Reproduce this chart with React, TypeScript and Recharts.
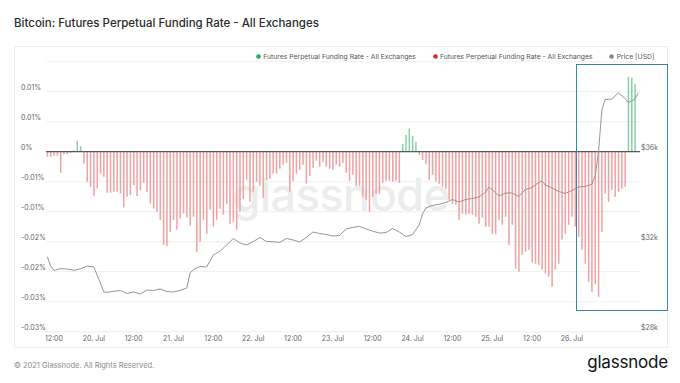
import React from 'react';
import { ComposedChart, Bar, Line, XAxis, YAxis, CartesianGrid, ReferenceLine } from 'recharts';

// hours are counted from 19 Jul 00:00
const FUNDING_START_HOUR = 10;
const fundingRate: number[] = [
  -0.00083, -0.00083, -0.00067, -0.00067, -0.0035, -0.00042, -0.00042, -0.00017, 0.00025, 0.00183,
  0.00092, -0.00195, -0.005, -0.00583, -0.00733, -0.00612, -0.00362, -0.00417, -0.00683, -0.00683,
  -0.00667, -0.00667, -0.00695, -0.00928, -0.0075, -0.00722, -0.00555, -0.00738, -0.00638, -0.00517,
  -0.00667, -0.00862, -0.00945, -0.01, -0.01138, -0.01555, -0.01572, -0.01333, -0.01138, -0.01295,
  -0.01112, -0.01028, -0.01095, -0.01233, -0.01083, -0.01667, -0.015, -0.01133, -0.01367, -0.00967,
  -0.0125, -0.01133, -0.0095, -0.0105, -0.00867, -0.012, -0.01167, -0.013, -0.01, -0.00783,
  -0.00467, -0.00833, -0.00667, -0.005, -0.00567, -0.00767, -0.00467, -0.0045, -0.00367, -0.00367,
  -0.00283, -0.00217, -0.00183, -0.00667, -0.00483, -0.00367, -0.003, -0.00217, -0.00533, -0.004,
  -0.00267, -0.0015, -0.0025, -0.00167, -0.0025, -0.00283, -0.003, -0.00217, -0.0025, -0.00183,
  -0.0035, -0.00483, -0.00383, -0.00567, -0.00567, -0.0075, -0.008, -0.01, -0.0075, -0.007,
  -0.007, -0.00517, -0.00483, -0.00483, -0.005, -0.00483, -0.00517, 0.00133, 0.00278, 0.00388,
  0.00267, 0.00167, -0.00055, -0.00138, -0.002, -0.00467, -0.00383, -0.005, -0.00533, -0.00583,
  -0.00617, -0.008, -0.00867, -0.00883, -0.01133, -0.01033, -0.0105, -0.01033, -0.0105, -0.01083,
  -0.012, -0.011, -0.0125, -0.0125, -0.01367, -0.01367, -0.01133, -0.01217, -0.01083, -0.0155,
  -0.01217, -0.0195, -0.02, -0.01717, -0.01667, -0.01633, -0.0185, -0.01867, -0.01883, -0.01967,
  -0.02033, -0.02083, -0.0225, -0.01967, -0.01867, -0.01467, -0.01367, -0.01217, -0.01083, -0.0125,
  -0.01417, -0.01633, -0.01867, -0.02167, -0.02333, -0.022, -0.02417, -0.01333, -0.007, -0.00833,
  -0.00633, -0.0075, -0.00667, -0.00617, -0.00583, 0.0125, 0.01233, 0.01133,
];

const priceHours: number[] = [
  10, 11, 12, 14, 16, 18, 20, 22, 24, 26, 27, 28, 30, 32, 34, 36, 38, 40, 42, 44, 46, 48, 50, 52, 53,
  54, 56, 58, 60, 62, 64, 66, 68, 70, 72, 74, 76, 78, 80, 82, 84, 86, 88, 90, 92, 94, 96, 98, 100,
  102, 104, 106, 108, 110, 112, 114, 116, 118, 120, 122, 123, 124, 126, 128, 130, 132, 134, 136, 138,
  140, 142, 143, 144, 146, 148, 150, 152, 154, 156, 158, 159, 160, 162, 164, 166, 168, 170, 172, 174,
  175, 176, 177, 178, 180, 182, 184, 185, 186, 187, 188,
];
const priceUsd: number[] = [
  31334, 30920, 30729, 30800, 30787, 30729, 30796, 30920, 30876, 30165, 29765, 29752, 29796, 29832,
  29698, 29765, 29676, 29854, 29832, 29898, 29787, 29765, 29832, 29943, 30609,
  30765, 30898, 30876, 31409, 31574, 31854, 32143, 31943, 31854, 32000, 32187, 32009, 32000, 31965,
  32143, 32076, 31987, 32187, 32431, 32365, 32320, 32254, 32276, 32565, 32631, 32685, 32565, 32467,
  32387, 32405, 32587, 32431, 32231, 32320, 32742, 33231, 33498, 33609, 33667, 33742, 33876, 33765,
  33876, 33920, 33987, 34209, 34431, 34320, 34031, 34165, 34165, 34009, 34320, 34409, 34631, 34698,
  34520, 34387, 34231, 34142, 34276, 34431, 34453, 34556, 34920, 35987, 37853, 38320, 38342, 38609,
  38364, 38186, 38253, 38342, 38622,
];

const xTickHours = [12, 24, 36, 48, 60, 72, 84, 96, 108, 120, 132, 144, 156, 168];
const xTickLabels = ['12:00', '20. Jul', '12:00', '21. Jul', '12:00', '22. Jul', '12:00', '23. Jul', '12:00', '24. Jul', '12:00', '25. Jul', '12:00', '26. Jul'];
const leftTicks = [-0.03, -0.025, -0.02, -0.015, -0.01, -0.005, 0, 0.005, 0.01, 0.015];
const leftTickLabels = ['-0.03%', '-0.03%', '-0.02%', '-0.02%', '-0.01%', '-0.01%', '0%', '0.01%', '0.01%', ''];
const rightTicks = [28000, 32000, 36000, 40000];
const rightTickLabels = ['$28k', '$32k', '$36k', ''];

const seriesNames = ['Futures Perpetual Funding Rate - All Exchanges', 'Futures Perpetual Funding Rate - All Exchanges', 'Price [USD]'];
const legendColors = ['#1fae66', '#e5252a', '#888888'];
const barColors = { pos: '#86d1aa', neg: '#f2a0a0' };

const FONT = 'Inter, "Noto Sans", sans-serif';
const TICK_COLOR = '#666';

const rows = (() => {
  const priceMap = new Map<number, number>();
  priceHours.forEach((h, i) => priceMap.set(h, priceUsd[i]));
  const out: any[] = [];
  for (let h = FUNDING_START_HOUR; h <= 188; h++) {
    const v = fundingRate[h - FUNDING_START_HOUR];
    out.push({
      hour: h,
      pos: v !== undefined && v > 0 ? v : null,
      neg: v !== undefined && v < 0 ? v : null,
      price: priceMap.has(h) ? priceMap.get(h) : null,
    });
  }
  return out;
})();

const XTick = (p: any) => {
  const i = xTickHours.indexOf(p.payload.value);
  return (
    <text x={p.x} y={p.y + 9} textAnchor="middle" fontSize={7} fill={TICK_COLOR} fontFamily={FONT}>
      {xTickLabels[i]}
    </text>
  );
};
const LeftTick = (p: any) => {
  const i = leftTicks.indexOf(p.payload.value);
  return (
    <text x={21} y={p.y - 1.3} textAnchor="start" fontSize={7} fill={TICK_COLOR} fontFamily={FONT}>
      {leftTickLabels[i]}
    </text>
  );
};
const RightTick = (p: any) => {
  const i = rightTicks.indexOf(p.payload.value);
  return (
    <text x={p.x + 1} y={p.y - 1.3} textAnchor="start" fontSize={7} fill={TICK_COLOR} fontFamily={FONT}>
      {rightTickLabels[i]}
    </text>
  );
};

const legendX = [255.8, 432.5, 609.2];

export default function App() {
  return (
    <div style={{ position: 'absolute', left: 0, top: 0, width: 680, height: 383, background: '#fff', fontFamily: FONT, overflow: 'hidden' }}>
      <div style={{ position: 'absolute', left: 14, top: 16, fontSize: 11.5, fontWeight: 500, color: '#2b2b2b', lineHeight: '14px', whiteSpace: 'nowrap' }}>
        Bitcoin: Futures Perpetual Funding Rate - All Exchanges
      </div>
      <div style={{ position: 'absolute', left: 14, top: 46, width: 654, height: 302, border: '1px solid #ededed', boxSizing: 'border-box' }} />
      <div style={{ position: 'absolute', left: 200, top: 170, width: 282, textAlign: 'center', fontSize: 45, fontWeight: 500, color: '#ececec', lineHeight: '50px', letterSpacing: -0.5 }}>
        glassnode
      </div>
      {seriesNames.map((name, i) => (
        <div key={i} style={{ position: 'absolute', left: legendX[i], top: 51, height: 10, display: 'flex', alignItems: 'center', fontSize: 6.8, color: '#555', whiteSpace: 'nowrap' }}>
          <svg width={5} height={5} style={{ marginRight: 2.5 }}>
            <circle cx={2.5} cy={2.5} r={2.3} fill={legendColors[i]} />
          </svg>
          {name}
        </div>
      ))}
      <div style={{ position: 'absolute', left: 0, top: 0 }}>
        <ComposedChart width={680} height={383} data={rows} margin={{ top: 61.7, right: 0, bottom: 31.3, left: 0 }} stackOffset="sign">
          <CartesianGrid yAxisId="left" vertical={false} stroke="#efefef" />
          <XAxis dataKey="hour" type="number" domain={[9.6, 188.5]} allowDataOverflow ticks={xTickHours} interval={0}
            axisLine={false} tickLine={false} tickSize={0} tickMargin={0} height={20} tick={<XTick />} />
          <YAxis yAxisId="left" domain={[-0.03, 0.015]} allowDataOverflow ticks={leftTicks} interval={0} width={46}
            axisLine={false} tickLine={false} tick={<LeftTick />} />
          <YAxis yAxisId="right" orientation="right" domain={[28000, 40000]} allowDataOverflow ticks={rightTicks} interval={0} width={40}
            axisLine={false} tickLine={false} tickSize={0} tickMargin={0} tick={<RightTick />} />
          <Bar yAxisId="left" dataKey="pos" stackId="f" fill={barColors.pos} barSize={1.5} isAnimationActive={false} />
          <Bar yAxisId="left" dataKey="neg" stackId="f" fill={barColors.neg} barSize={1.5} isAnimationActive={false} />
          <ReferenceLine yAxisId="left" y={0} stroke="#5a5a5a" strokeWidth={1.3} />
          <Line yAxisId="right" dataKey="price" type="linear" stroke="#959595" strokeWidth={1} dot={false} connectNulls isAnimationActive={false} />
        </ComposedChart>
      </div>
      <div style={{ position: 'absolute', left: 576, top: 63.5, width: 92, height: 247, border: '1.5px solid #3a86a7', boxSizing: 'border-box' }} />
      <div style={{ position: 'absolute', left: 14, top: 360, fontSize: 7.5, color: '#8a8a8a', lineHeight: '12px', whiteSpace: 'nowrap' }}>
        © 2021 Glassnode. All Rights Reserved.
      </div>
      <div style={{ position: 'absolute', right: 12, top: 352, fontSize: 17, fontWeight: 400, color: '#111', lineHeight: '20px', letterSpacing: -0.2 }}>
        glassnode
      </div>
    </div>
  );
}
